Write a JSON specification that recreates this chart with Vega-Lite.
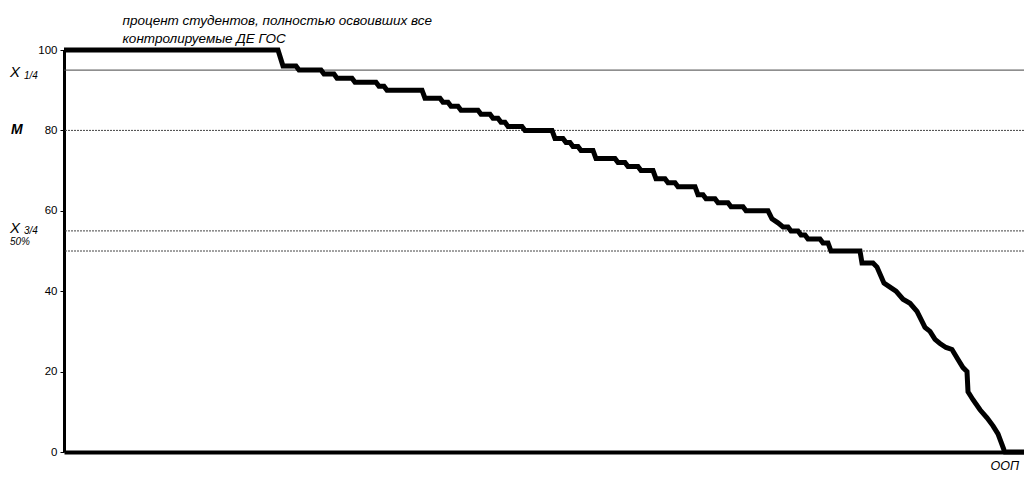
{
  "$schema": "https://vega.github.io/schema/vega-lite/v6.json",
  "width": 960,
  "height": 402,
  "autosize": {"type": "none"},
  "padding": {"left": 64, "top": 50, "right": 0, "bottom": 25},
  "background": "white",
  "config": {"view": {"stroke": null}, "font": "Liberation Sans"},
  "datasets": {
    "curve": [
      {"n": 0, "p": 100}, {"n": 214, "p": 100}, {"n": 219, "p": 96}, {"n": 232, "p": 96},
      {"n": 235, "p": 95}, {"n": 257, "p": 95}, {"n": 260, "p": 94}, {"n": 270, "p": 94},
      {"n": 273, "p": 93}, {"n": 288, "p": 93}, {"n": 291, "p": 92}, {"n": 312, "p": 92},
      {"n": 315, "p": 91}, {"n": 320, "p": 91}, {"n": 323, "p": 90}, {"n": 358, "p": 90},
      {"n": 361, "p": 88}, {"n": 376, "p": 88}, {"n": 379, "p": 87}, {"n": 384, "p": 87},
      {"n": 387, "p": 86}, {"n": 394, "p": 86}, {"n": 397, "p": 85}, {"n": 414, "p": 85},
      {"n": 417, "p": 84}, {"n": 426, "p": 84}, {"n": 429, "p": 83}, {"n": 434, "p": 83},
      {"n": 437, "p": 82}, {"n": 441, "p": 82}, {"n": 444, "p": 81}, {"n": 458, "p": 81},
      {"n": 461, "p": 80}, {"n": 488, "p": 80}, {"n": 491, "p": 78}, {"n": 499, "p": 78},
      {"n": 502, "p": 77}, {"n": 506, "p": 77}, {"n": 509, "p": 76}, {"n": 514, "p": 76},
      {"n": 517, "p": 75}, {"n": 529, "p": 75}, {"n": 532, "p": 73}, {"n": 551, "p": 73},
      {"n": 554, "p": 72}, {"n": 561, "p": 72}, {"n": 564, "p": 71}, {"n": 574, "p": 71},
      {"n": 577, "p": 70}, {"n": 589, "p": 70}, {"n": 592, "p": 68}, {"n": 601, "p": 68},
      {"n": 604, "p": 67}, {"n": 611, "p": 67}, {"n": 614, "p": 66}, {"n": 631, "p": 66},
      {"n": 634, "p": 64}, {"n": 639, "p": 64}, {"n": 642, "p": 63}, {"n": 651, "p": 63},
      {"n": 654, "p": 62}, {"n": 664, "p": 62}, {"n": 667, "p": 61}, {"n": 679, "p": 61},
      {"n": 682, "p": 60}, {"n": 704, "p": 60}, {"n": 708, "p": 58}, {"n": 714, "p": 57},
      {"n": 719, "p": 56}, {"n": 724, "p": 56}, {"n": 727, "p": 55}, {"n": 734, "p": 55},
      {"n": 737, "p": 54}, {"n": 741, "p": 54}, {"n": 744, "p": 53}, {"n": 756, "p": 53},
      {"n": 759, "p": 52}, {"n": 764, "p": 52}, {"n": 767, "p": 50}, {"n": 796, "p": 50},
      {"n": 798, "p": 47}, {"n": 809, "p": 47}, {"n": 813, "p": 46}, {"n": 820, "p": 42},
      {"n": 826, "p": 41}, {"n": 832, "p": 40}, {"n": 839, "p": 38}, {"n": 846, "p": 37},
      {"n": 853, "p": 35}, {"n": 857, "p": 33}, {"n": 861, "p": 31}, {"n": 866, "p": 30},
      {"n": 871, "p": 28}, {"n": 876, "p": 27}, {"n": 882, "p": 26}, {"n": 888, "p": 25.5},
      {"n": 894, "p": 23}, {"n": 899, "p": 21}, {"n": 903, "p": 20}, {"n": 904, "p": 15},
      {"n": 909, "p": 13}, {"n": 916, "p": 10.5}, {"n": 923, "p": 8.5}, {"n": 929, "p": 6.5},
      {"n": 934, "p": 4.5}, {"n": 937, "p": 2.5}, {"n": 940, "p": 0.5}, {"n": 941, "p": 0},
      {"n": 960, "p": 0}
    ],
    "refs": [
      {"v": 95, "kind": "solid"},
      {"v": 80, "kind": "dot"},
      {"v": 55, "kind": "dot"},
      {"v": 50, "kind": "dot"}
    ]
  },
  "layer": [
    {
      "data": {"name": "refs"},
      "mark": {"type": "rule", "color": "#444", "strokeWidth": 1},
      "encoding": {
        "y": {"field": "v", "type": "quantitative"},
        "strokeDash": {
          "field": "kind", "type": "nominal", "legend": null,
          "scale": {"domain": ["solid", "dot"], "range": [[1, 0], [2, 1]]}
        }
      }
    },
    {
      "data": {"name": "curve"},
      "mark": {"type": "line", "color": "black", "strokeWidth": 5, "strokeJoin": "miter", "clip": false},
      "encoding": {
        "x": {
          "field": "n", "type": "quantitative",
          "scale": {"domain": [0, 960], "nice": false, "zero": false},
          "axis": {
            "title": "ООП",
            "titleFont": "Liberation Sans",
            "titleFontStyle": "italic",
            "titleFontWeight": "normal",
            "titleFontSize": 12.5,
            "titleAlign": "left",
            "titleAnchor": "start",
            "titleBaseline": "alphabetic",
            "titleX": 926,
            "titleY": 17,
            "titleColor": "black",
            "labels": false,
            "grid": false,
            "domainColor": "black",
            "domainWidth": 4,
            "ticks": false
          }
        },
        "y": {
          "field": "p", "type": "quantitative",
          "scale": {"domain": [0, 100], "nice": false},
          "axis": {
            "values": [0, 20, 40, 60, 80, 100],
            "grid": false,
            "domainColor": "black",
            "domainWidth": 3,
            "tickColor": "black",
            "tickWidth": 1,
            "tickSize": 4,
            "labelPadding": 3,
            "labelFont": "Liberation Sans",
            "labelFontSize": 11.5,
            "labelColor": "black",
            "title": ["процент студентов, полностью освоивших все", "контролируемые ДЕ ГОС"],
            "titleAngle": 0,
            "titleAlign": "left",
            "titleBaseline": "alphabetic",
            "titleX": 58,
            "titleY": -26,
            "titleLineHeight": 18,
            "titleFont": "Liberation Sans",
            "titleFontStyle": "italic",
            "titleFontWeight": "normal",
            "titleFontSize": 13.5,
            "titleColor": "black"
          }
        }
      }
    },
    {
      "data": {"values": [{"v": 95, "t": "X"}]},
      "mark": {"type": "text", "align": "left", "baseline": "middle", "dx": -54, "dy": 2, "fontSize": 15, "fontStyle": "italic", "font": "Liberation Sans", "color": "black"},
      "encoding": {"y": {"field": "v", "type": "quantitative"}, "x": {"value": 0}, "text": {"field": "t"}}
    },
    {
      "data": {"values": [{"v": 95, "t": "1/4"}]},
      "mark": {"type": "text", "align": "left", "baseline": "middle", "dx": -40, "dy": 6, "fontSize": 10, "fontStyle": "italic", "font": "Liberation Sans", "color": "black"},
      "encoding": {"y": {"field": "v", "type": "quantitative"}, "x": {"value": 0}, "text": {"field": "t"}}
    },
    {
      "data": {"values": [{"v": 55, "t": "X"}]},
      "mark": {"type": "text", "align": "left", "baseline": "middle", "dx": -54, "dy": -3, "fontSize": 15, "fontStyle": "italic", "font": "Liberation Sans", "color": "black"},
      "encoding": {"y": {"field": "v", "type": "quantitative"}, "x": {"value": 0}, "text": {"field": "t"}}
    },
    {
      "data": {"values": [{"v": 55, "t": "3/4"}]},
      "mark": {"type": "text", "align": "left", "baseline": "middle", "dx": -40, "dy": 0, "fontSize": 10, "fontStyle": "italic", "font": "Liberation Sans", "color": "black"},
      "encoding": {"y": {"field": "v", "type": "quantitative"}, "x": {"value": 0}, "text": {"field": "t"}}
    },
    {
      "data": {"values": [{"v": 80, "t": "M"}]},
      "mark": {"type": "text", "align": "left", "baseline": "middle", "dx": -53, "fontSize": 14, "fontStyle": "italic", "fontWeight": "bold", "font": "Liberation Sans", "color": "black"},
      "encoding": {"y": {"field": "v", "type": "quantitative"}, "x": {"value": 0}, "text": {"field": "t"}}
    },
    {
      "data": {"values": [{"v": 50, "t": "50%"}]},
      "mark": {"type": "text", "align": "left", "baseline": "middle", "dx": -54, "dy": -9, "fontSize": 10, "fontStyle": "italic", "font": "Liberation Sans", "color": "black"},
      "encoding": {"y": {"field": "v", "type": "quantitative"}, "x": {"value": 0}, "text": {"field": "t"}}
    }
  ]
}
